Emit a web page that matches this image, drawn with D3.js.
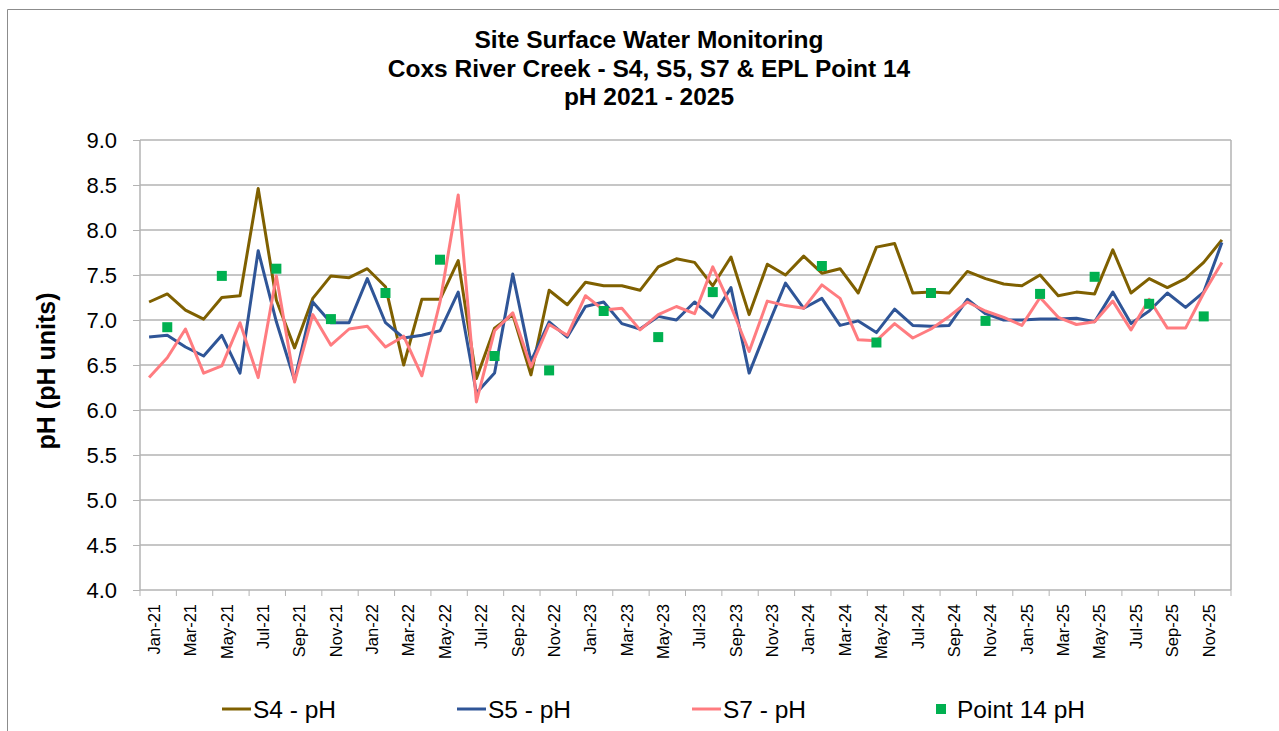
<!DOCTYPE html>
<html>
<head>
<meta charset="utf-8">
<script src="https://cdn.jsdelivr.net/npm/d3@7"></script>
<style>
body { margin: 0; background: #fff; }
svg { display: block; font-family: "Liberation Sans", Arial, sans-serif; }
.axis path { display: none; }
.axis line { stroke: #b3b3b3; }
.grid line { stroke: #b3b3b3; stroke-width: 1.5; }
</style>
</head>
<body>
<div id="chart"></div>
<script>
// months Jan-21 .. Dec-25
var fmt = d3.timeFormat("%b-%y");
var months = d3.timeMonths(new Date(2021, 0, 1), new Date(2026, 0, 1)).map(fmt);

var s4 = [7.20, 7.29, 7.11, 7.01, 7.25, 7.27, 8.46, 7.22, 6.69, 7.24,
          7.49, 7.47, 7.57, 7.37, 6.50, 7.23, 7.23, 7.66, 6.35, 6.91,
          7.06, 6.39, 7.33, 7.17, 7.42, 7.38, 7.38, 7.33, 7.59, 7.68,
          7.64, 7.38, 7.70, 7.06, 7.62, 7.50, 7.71, 7.52, 7.57, 7.30,
          7.81, 7.85, 7.30, 7.31, 7.30, 7.54, 7.46, 7.40, 7.38, 7.50,
          7.27, 7.31, 7.29, 7.78, 7.30, 7.46, 7.36, 7.46, 7.64, 7.89];

var s5 = [6.81, 6.83, 6.70, 6.60, 6.83, 6.41, 7.77, 6.98, 6.33, 7.20,
          6.97, 6.97, 7.46, 6.97, 6.80, 6.83, 6.88, 7.31, 6.19, 6.41,
          7.51, 6.54, 6.98, 6.81, 7.15, 7.20, 6.96, 6.90, 7.04, 7.00,
          7.20, 7.03, 7.36, 6.41, 6.92, 7.41, 7.13, 7.24, 6.94, 6.99,
          6.86, 7.12, 6.94, 6.93, 6.94, 7.23, 7.07, 7.00, 7.00, 7.01,
          7.01, 7.02, 6.98, 7.31, 6.96, 7.10, 7.30, 7.14, 7.31, 7.86];

var s7 = [6.36, 6.58, 6.90, 6.41, 6.49, 6.97, 6.36, 7.49, 6.31, 7.06,
          6.72, 6.90, 6.93, 6.70, 6.82, 6.38, 7.20, 8.39, 6.09, 6.88,
          7.08, 6.48, 6.95, 6.83, 7.27, 7.11, 7.13, 6.89, 7.06, 7.15,
          7.07, 7.59, 7.15, 6.65, 7.21, 7.16, 7.13, 7.39, 7.24, 6.78,
          6.77, 6.96, 6.80, 6.90, 7.04, 7.20, 7.10, 7.03, 6.94, 7.25,
          7.03, 6.95, 6.98, 7.21, 6.89, 7.23, 6.91, 6.91, 7.30, 7.64];

// EPL Point 14 is sampled quarterly
var p14Months = ["Feb-21", "May-21", "Aug-21", "Nov-21", "Feb-22", "May-22", "Aug-22", "Nov-22",
                 "Feb-23", "May-23", "Aug-23", "Feb-24", "May-24", "Aug-24", "Nov-24",
                 "Feb-25", "May-25", "Aug-25", "Nov-25"];
var p14 = [6.92, 7.49, 7.57, 7.01, 7.30, 7.67, 6.60, 6.44,
           7.10, 6.81, 7.31, 7.60, 6.75, 7.30, 6.99,
           7.29, 7.48, 7.18, 7.04];

var yTicks = [4.0, 4.5, 5.0, 5.5, 6.0, 6.5, 7.0, 7.5, 8.0, 8.5, 9.0];

var titleLines = ["Site Surface Water Monitoring", "Coxs River Creek - S4, S5, S7 & EPL Point 14", "pH 2021 - 2025"];

var series = [
    {name: "S4 - pH", values: s4, color: "#7f6000"},
    {name: "S5 - pH", values: s5, color: "#2f5597"},
    {name: "S7 - pH", values: s7, color: "#ff7c80"}
];

var W = 1279, H = 731;
var margin = {top: 140, left: 140, right: 48, bottom: 141};

var svg = d3.select("#chart").append("svg")
    .attr("width", W)
    .attr("height", H);

// outer chart frame
svg.append("path")
    .attr("d", "M7.5," + H + "V9.5H" + W)
    .attr("fill", "none")
    .attr("stroke", "#8c8c8c");

var x = d3.scaleBand()
    .domain(months)
    .range([margin.left, W - margin.right]);

var y = d3.scaleLinear()
    .domain([4, 9])
    .range([H - margin.bottom, margin.top]);

var bw = x.bandwidth();

// horizontal gridlines
svg.append("g")
    .attr("class", "grid")
    .selectAll("line")
    .data(yTicks)
    .enter().append("line")
    .attr("x1", margin.left)
    .attr("x2", W - margin.right)
    .attr("y1", function(d){ return y(d); })
    .attr("y2", function(d){ return y(d); });

// plot area sides
svg.append("line")
    .attr("x1", margin.left).attr("x2", margin.left)
    .attr("y1", y(9)).attr("y2", y(4))
    .attr("stroke", "#b3b3b3").attr("stroke-width", 1.5);
svg.append("line")
    .attr("x1", W - margin.right).attr("x2", W - margin.right)
    .attr("y1", y(9)).attr("y2", y(4))
    .attr("stroke", "#b3b3b3").attr("stroke-width", 1.5);

var y_axis = d3.axisLeft(y)
    .tickValues(yTicks)
    .tickFormat(d3.format(".1f"))
    .tickSize(7)
    .tickPadding(16);

svg.append("g")
    .attr("class", "y axis")
    .attr("transform", "translate(" + margin.left + ",0)")
    .call(y_axis)
    .selectAll("text")
    .style("font-size", "22px")
    .attr("fill", "#000");

var everyOther = months.filter(function(d, i){ return i % 2 === 0; });

var x_axis = d3.axisBottom(x)
    .tickValues(everyOther)
    .tickSize(6);

var gx = svg.append("g")
    .attr("class", "x axis")
    .attr("transform", "translate(0," + y(4) + ")")
    .call(x_axis);

// tick marks sit between categories
gx.selectAll(".tick line")
    .attr("x1", -bw / 2)
    .attr("x2", -bw / 2);

gx.append("line")
    .attr("x1", W - margin.right).attr("x2", W - margin.right)
    .attr("y1", 0).attr("y2", 6);

gx.selectAll(".tick text")
    .attr("transform", "translate(5,14) rotate(-90)")
    .attr("x", 0)
    .attr("y", 0)
    .attr("dy", "0.35em")
    .style("text-anchor", "end")
    .style("font-size", "16.5px")
    .attr("fill", "#000");

var line = d3.line()
    .x(function(d, i){ return x(months[i]) + bw / 2; })
    .y(function(d){ return y(d); });

svg.selectAll(".series")
    .data(series)
    .enter().append("path")
    .attr("class", "series")
    .attr("d", function(d){ return line(d.values); })
    .attr("fill", "none")
    .attr("stroke", function(d){ return d.color; })
    .attr("stroke-width", 3)
    .attr("stroke-linejoin", "round");

var sq = 10;
svg.selectAll(".p14")
    .data(p14)
    .enter().append("rect")
    .attr("class", "p14")
    .attr("x", function(d, i){ return x(p14Months[i]) + bw / 2 - sq / 2; })
    .attr("y", function(d){ return y(d) - sq / 2; })
    .attr("width", sq)
    .attr("height", sq)
    .attr("fill", "#00b050");

// titles
svg.append("g")
    .selectAll("text")
    .data(titleLines)
    .enter().append("text")
    .attr("x", 649)
    .attr("y", function(d, i){ return 48 + i * 28.5; })
    .attr("text-anchor", "middle")
    .style("font-size", "24.5px")
    .style("font-weight", "bold")
    .text(function(d){ return d; });

svg.append("text")
    .attr("transform", "translate(55," + ((y(4) + y(9)) / 2 + 6) + ") rotate(-90)")
    .attr("text-anchor", "middle")
    .style("font-size", "25px")
    .style("font-weight", "bold")
    .text("pH (pH units)");

// legend
var legendX = [222, 457, 692];
var leg = svg.append("g").attr("class", "legend");

leg.selectAll("line")
    .data(series)
    .enter().append("line")
    .attr("x1", function(d, i){ return legendX[i]; })
    .attr("x2", function(d, i){ return legendX[i] + 29; })
    .attr("y1", 709)
    .attr("y2", 709)
    .attr("stroke", function(d){ return d.color; })
    .attr("stroke-width", 3);

leg.selectAll("text.sname")
    .data(series)
    .enter().append("text")
    .attr("class", "sname")
    .attr("x", function(d, i){ return legendX[i] + 31; })
    .attr("y", 709)
    .attr("dy", "0.35em")
    .style("font-size", "24.5px")
    .text(function(d){ return d.name; });

leg.append("rect")
    .attr("x", 936).attr("y", 704)
    .attr("width", 10).attr("height", 10)
    .attr("fill", "#00b050");

leg.append("text")
    .attr("x", 957)
    .attr("y", 709)
    .attr("dy", "0.35em")
    .style("font-size", "24.5px")
    .text("Point 14 pH");
</script>
</body>
</html>
